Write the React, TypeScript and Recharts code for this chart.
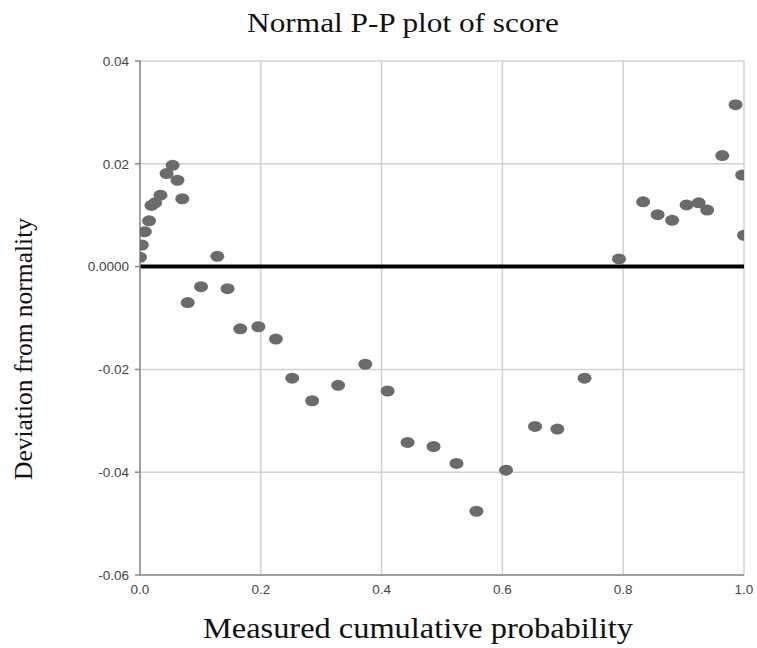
import {
  ScatterChart,
  Scatter,
  XAxis,
  YAxis,
  CartesianGrid,
  ReferenceLine,
} from "recharts";

// measured cumulative probability
const probX = [
  0.0, 0.003, 0.008, 0.015, 0.019, 0.025, 0.034, 0.044, 0.054, 0.062, 0.07,
  0.079, 0.101, 0.128, 0.145, 0.166, 0.196, 0.225, 0.252, 0.285, 0.328, 0.373,
  0.41, 0.443, 0.486, 0.524, 0.557, 0.606, 0.654, 0.691, 0.736, 0.793, 0.833,
  0.857, 0.881, 0.905, 0.925, 0.939, 0.964, 0.986, 0.997, 1.0,
];

// deviation from normality
const deviation = [
  0.0018, 0.0042, 0.0068, 0.0089, 0.0119, 0.0124, 0.0139, 0.0181, 0.0197,
  0.0168, 0.0132, -0.007, -0.0039, 0.002, -0.0043, -0.0121, -0.0117, -0.0141,
  -0.0217, -0.0261, -0.0231, -0.019, -0.0242, -0.0342, -0.035, -0.0383,
  -0.0476, -0.0396, -0.0311, -0.0316, -0.0217, 0.0015, 0.0126, 0.0101, 0.009,
  0.012, 0.0124, 0.011, 0.0216, 0.0315, 0.0178, 0.0061,
];

const xTicks = [0, 0.2, 0.4, 0.6, 0.8, 1.0];
const yTicks = [-0.06, -0.04, -0.02, 0, 0.02, 0.04];

const points = probX.map((x, i) => ({ x, y: deviation[i] }));

const serif = "'Liberation Serif', 'Times New Roman', serif";
const tickStyle = {
  fontSize: 13.5,
  fill: "#444",
  fontFamily: "'Liberation Sans', Arial, sans-serif",
};

const Dot = (props: any) => (
  <ellipse cx={props.cx} cy={props.cy} rx={7} ry={5.5} fill="#6b6b6b" />
);

export default function App() {
  return (
    <div style={{ position: "absolute", left: 0, top: 0, width: 757, height: 648, background: "#fff" }}>
      <ScatterChart
        width={757}
        height={648}
        margin={{ top: 61, right: 13, left: 0, bottom: 0 }}
      >
        <CartesianGrid stroke="#d2d2d2" strokeWidth={1.5} />
        <XAxis
          type="number"
          dataKey="x"
          domain={[0, 1]}
          ticks={xTicks}
          tickFormatter={(v: number) => v.toFixed(1)}
          tick={tickStyle}
          height={73}
          tickSize={0}
          tickMargin={9}
          stroke="#8a8a8a"
          strokeWidth={1.5}
          allowDataOverflow
        />
        <YAxis
          type="number"
          dataKey="y"
          domain={[-0.06, 0.04]}
          ticks={yTicks}
          tickFormatter={(v: number) => (v === 0 ? "0.0000" : v.toFixed(2))}
          tick={tickStyle}
          width={140}
          tickSize={5}
          tickMargin={6}
          stroke="#8a8a8a"
          strokeWidth={1.5}
          allowDataOverflow
        />
        <ReferenceLine y={0} stroke="#000" strokeWidth={4} />
        <Scatter data={points} shape={Dot} isAnimationActive={false} />
      </ScatterChart>
      <svg
        width={757}
        height={648}
        style={{ position: "absolute", left: 0, top: 0, pointerEvents: "none" }}
        fontFamily={serif}
        fill="#111"
      >
        <text transform="translate(403,32) scale(1.16,1)" textAnchor="middle" fontSize={27}>
          Normal P-P plot of score
        </text>
        <text transform="translate(418,638) scale(1.08,1)" textAnchor="middle" fontSize={30}>
          Measured cumulative probability
        </text>
        <text transform="translate(32,349) rotate(-90)" textAnchor="middle" fontSize={25.5}>
          Deviation from normality
        </text>
      </svg>
    </div>
  );
}
